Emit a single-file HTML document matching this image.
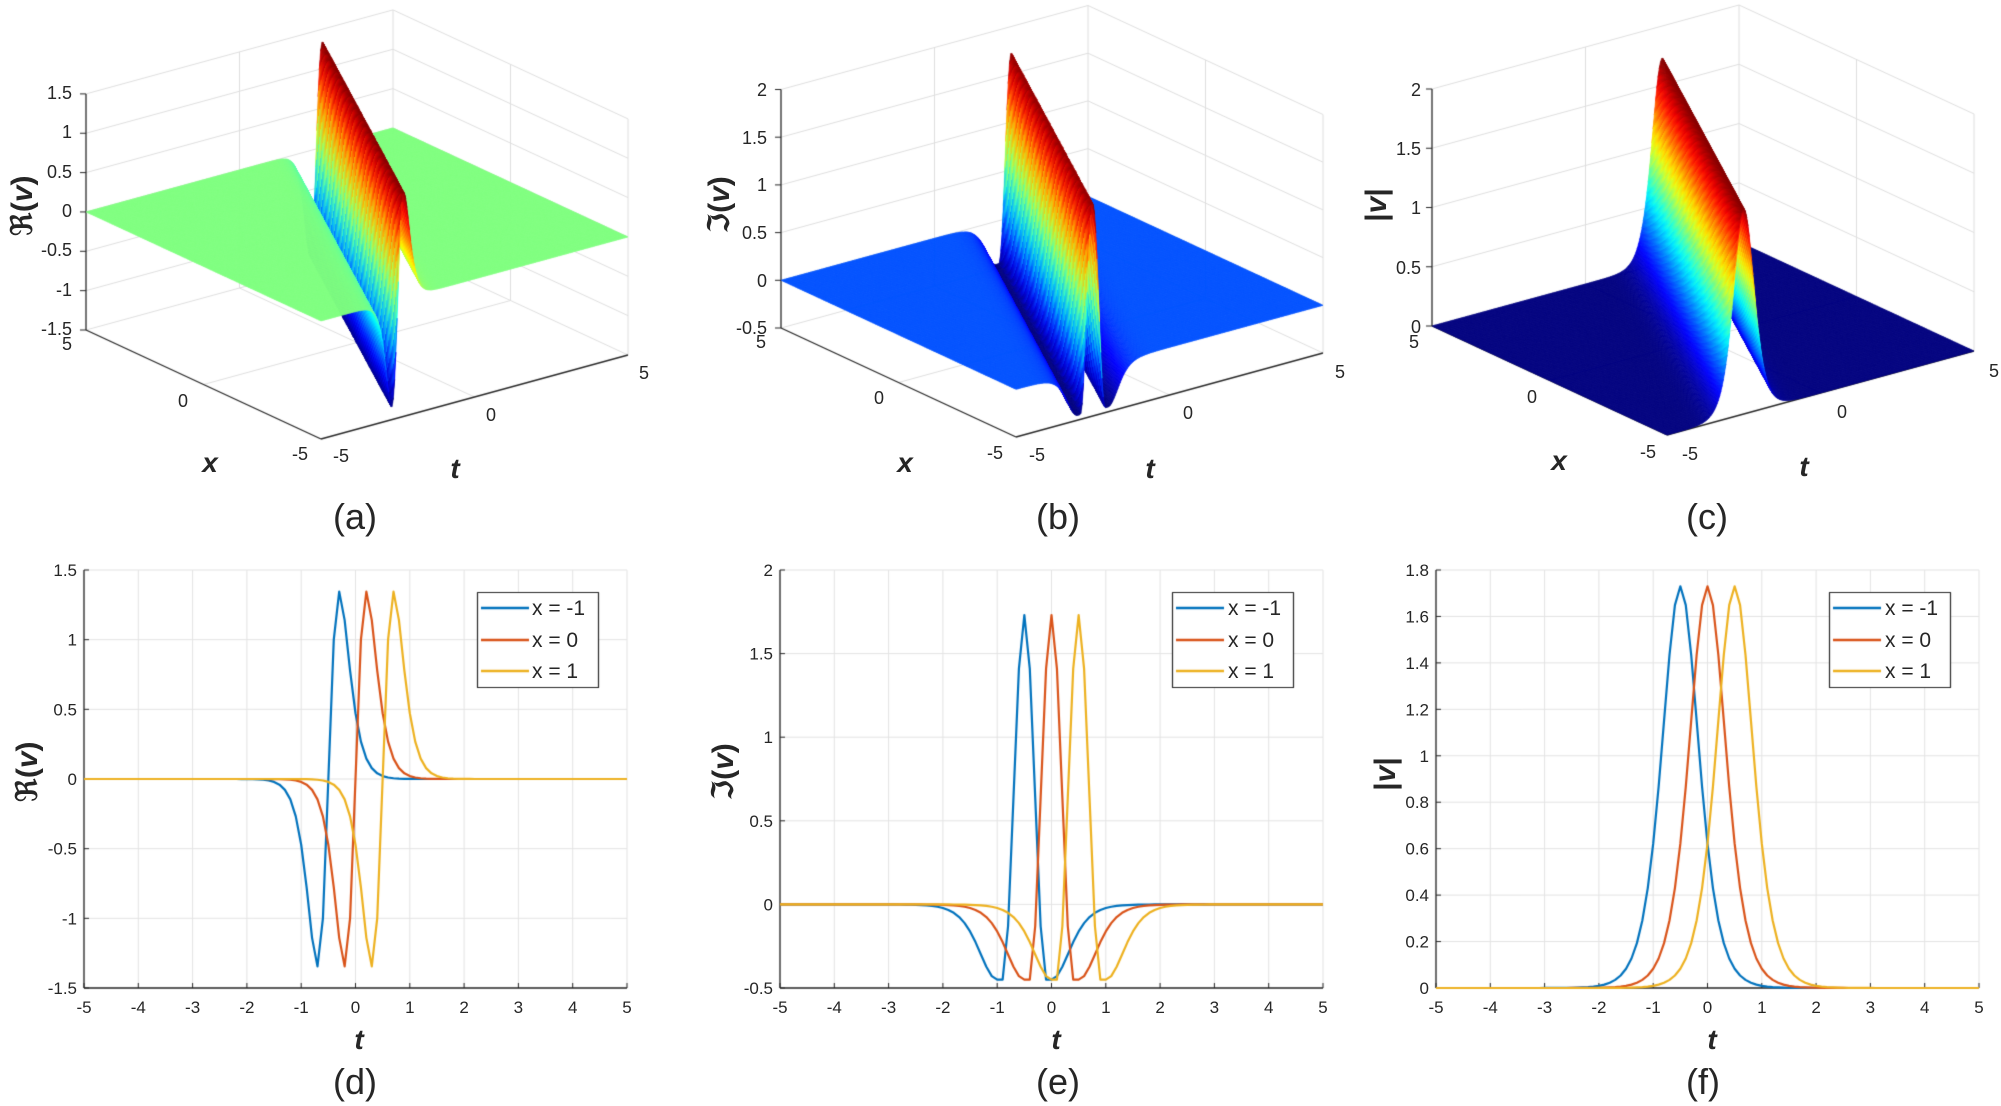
<!DOCTYPE html>
<html><head><meta charset="utf-8">
<style>
html,body{margin:0;padding:0;background:#fff;}
#wrap{position:relative;width:2001px;height:1106px;overflow:hidden;}
canvas,svg{position:absolute;left:0;top:0;}
text{font-family:"Liberation Sans","DejaVu Sans",sans-serif;fill:#262626;}
.tk{font-size:17px;}
.tk3{font-size:18px;}
.lab{font-size:28px;font-weight:bold;font-style:italic;fill:#000;}
.yl{font-size:30px;font-weight:bold;fill:#000;font-family:"DejaVu Serif","Liberation Serif",serif;}
.cap{font-size:36px;fill:#000;}
.lg{font-size:21px;fill:#000;}
</style></head>
<body><div id="wrap">
<canvas id="c" width="2001" height="1106"></canvas>
<svg width="2001" height="1106" viewBox="0 0 2001 1106">
<g class="tk3" text-anchor="end">
<text x="72" y="99">1.5</text><text x="72" y="138">1</text><text x="72" y="178">0.5</text><text x="72" y="217">0</text><text x="72" y="256">-0.5</text><text x="72" y="296">-1</text><text x="72" y="335">-1.5</text>
<text x="767" y="96">2</text><text x="767" y="144">1.5</text><text x="767" y="191">1</text><text x="767" y="239">0.5</text><text x="767" y="287">0</text><text x="767" y="334">-0.5</text>
<text x="1421" y="96">2</text><text x="1421" y="155">1.5</text><text x="1421" y="214">1</text><text x="1421" y="274">0.5</text><text x="1421" y="333">0</text>
</g>
<g class="tk3" text-anchor="middle">
<text x="67" y="350">5</text><text x="183" y="407">0</text><text x="300" y="460">-5</text>
<text x="341" y="462">-5</text><text x="491" y="421">0</text><text x="644" y="379">5</text>
<text x="761" y="348">5</text><text x="879" y="404">0</text><text x="995" y="459">-5</text>
<text x="1037" y="461">-5</text><text x="1188" y="419">0</text><text x="1340" y="378">5</text>
<text x="1414" y="348">5</text><text x="1532" y="403">0</text><text x="1648" y="458">-5</text>
<text x="1690" y="460">-5</text><text x="1842" y="418">0</text><text x="1994" y="377">5</text>
</g>
<g class="lab" text-anchor="middle">
<text x="210" y="472">x</text><text x="455" y="478">t</text>
<text x="905" y="472">x</text><text x="1150" y="478">t</text>
<text x="1559" y="470">x</text><text x="1804" y="476">t</text>
<text x="359" y="1049">t</text><text x="1056" y="1049">t</text><text x="1712" y="1049">t</text>
</g>
<g class="yl" text-anchor="middle">
<text transform="translate(32,206) rotate(-90)">ℜ(<tspan font-style="italic">v</tspan>)</text>
<text transform="translate(729,205) rotate(-90)">ℑ(<tspan font-style="italic">v</tspan>)</text>
<text transform="translate(1386,205) rotate(-90)" font-family="Liberation Sans,sans-serif">|<tspan font-style="italic">v</tspan>|</text>
<text transform="translate(37,772) rotate(-90)">ℜ(<tspan font-style="italic">v</tspan>)</text>
<text transform="translate(733,772) rotate(-90)">ℑ(<tspan font-style="italic">v</tspan>)</text>
<text transform="translate(1395,774) rotate(-90)" font-family="Liberation Sans,sans-serif">|<tspan font-style="italic">v</tspan>|</text>
</g>
<g class="cap" text-anchor="middle">
<text x="355" y="529">(a)</text><text x="1058" y="529">(b)</text><text x="1707" y="529">(c)</text>
<text x="355" y="1094">(d)</text><text x="1058" y="1094">(e)</text><text x="1703" y="1094">(f)</text>
</g>
<g class="tk" text-anchor="middle">
<text x="84" y="1013">-5</text><text x="138.3" y="1013">-4</text><text x="192.6" y="1013">-3</text><text x="246.9" y="1013">-2</text><text x="301.2" y="1013">-1</text><text x="355.5" y="1013">0</text><text x="409.8" y="1013">1</text><text x="464.1" y="1013">2</text><text x="518.4" y="1013">3</text><text x="572.7" y="1013">4</text><text x="627" y="1013">5</text>
<text x="780" y="1013">-5</text><text x="834.3" y="1013">-4</text><text x="888.6" y="1013">-3</text><text x="942.9" y="1013">-2</text><text x="997.2" y="1013">-1</text><text x="1051.5" y="1013">0</text><text x="1105.8" y="1013">1</text><text x="1160.1" y="1013">2</text><text x="1214.4" y="1013">3</text><text x="1268.7" y="1013">4</text><text x="1323" y="1013">5</text>
<text x="1436" y="1013">-5</text><text x="1490.3" y="1013">-4</text><text x="1544.6" y="1013">-3</text><text x="1598.9" y="1013">-2</text><text x="1653.2" y="1013">-1</text><text x="1707.5" y="1013">0</text><text x="1761.8" y="1013">1</text><text x="1816.1" y="1013">2</text><text x="1870.4" y="1013">3</text><text x="1924.7" y="1013">4</text><text x="1979" y="1013">5</text>
</g>
<g class="tk" text-anchor="end">
<text x="77" y="576">1.5</text><text x="77" y="645.7">1</text><text x="77" y="715.3">0.5</text><text x="77" y="785">0</text><text x="77" y="854.7">-0.5</text><text x="77" y="924.3">-1</text><text x="77" y="994">-1.5</text>
<text x="773" y="576">2</text><text x="773" y="659.6">1.5</text><text x="773" y="743.2">1</text><text x="773" y="826.8">0.5</text><text x="773" y="910.4">0</text><text x="773" y="994">-0.5</text>
<text x="1429" y="576">1.8</text><text x="1429" y="622.4">1.6</text><text x="1429" y="668.9">1.4</text><text x="1429" y="715.3">1.2</text><text x="1429" y="761.8">1</text><text x="1429" y="808.2">0.8</text><text x="1429" y="854.7">0.6</text><text x="1429" y="901.1">0.4</text><text x="1429" y="947.6">0.2</text><text x="1429" y="994">0</text>
</g>
<g class="lg">
<text x="532" y="615">x = -1</text><text x="532" y="647">x = 0</text><text x="532" y="678">x = 1</text>
<text x="1228" y="615">x = -1</text><text x="1228" y="647">x = 0</text><text x="1228" y="678">x = 1</text>
<text x="1885" y="615">x = -1</text><text x="1885" y="647">x = 0</text><text x="1885" y="678">x = 1</text>
</g>
</svg>
</div>
<script>
const cv=document.getElementById('c'),g=cv.getContext('2d');
function sech(a){return 2/(Math.exp(a)+Math.exp(-a));}
function Re(s){const h=sech(3.85*s);return 1.33*(s*h*h)/0.115;}
function Im(s){const a=Math.abs(s);
 if(a<0.4){const c=Math.cos(Math.PI/2*a/0.4);return -0.45+2.18*c*c;}
 if(a<0.5)return -0.45;
 const h=sech(2.2*(a-0.5));return -0.45*h*h;}
function Ab(s){const h=sech(2.2*s);return 1.73*h*h;}
function jet(v){v=Math.max(0,Math.min(1,v));
 const c=x=>Math.round(255*Math.max(0,Math.min(1,x)));
 return 'rgb('+c(1.5-Math.abs(4*v-3))+','+c(1.5-Math.abs(4*v-2))+','+c(1.5-Math.abs(4*v-1))+')';}
const ux=[-23.5,-10.9],ut=[30.7,-8.4];
const P3=[
 {F:[321,439],zmin:-1.5,zmax:1.5,zs:78.7,f:Re,cmin:-1.33,cmax:1.33,zt:[-1.5,-1,-0.5,0,0.5,1,1.5]},
 {F:[1016,437],zmin:-0.5,zmax:2,zs:95.4,f:Im,cmin:-0.45,cmax:1.73,zt:[-0.5,0,0.5,1,1.5,2]},
 {F:[1667,435],zmin:0,zmax:2,zs:118.5,f:Ab,cmin:0,cmax:1.73,zt:[0,0.5,1,1.5,2]}];
function pr(p,x,t,z){return [p.F[0]+(x+5)*ux[0]+(t+5)*ut[0],p.F[1]+(x+5)*ux[1]+(t+5)*ut[1]-(z-p.zmin)*p.zs];}
function ln(a,b,col,w){g.strokeStyle=col;g.lineWidth=w;g.beginPath();g.moveTo(a[0],a[1]);g.lineTo(b[0],b[1]);g.stroke();}
for(const p of P3){
 const gc='#dedede';
 for(const z of p.zt){ln(pr(p,5,-5,z),pr(p,5,5,z),gc,1);ln(pr(p,5,5,z),pr(p,-5,5,z),gc,1);}
 for(const t of [0,5]) ln(pr(p,5,t,p.zmin),pr(p,5,t,p.zmax),gc,1);
 for(const x of [0,-5]) ln(pr(p,x,5,p.zmin),pr(p,x,5,p.zmax),gc,1);
 ln(pr(p,0,-5,p.zmin),pr(p,0,5,p.zmin),gc,1);
 ln(pr(p,-5,0,p.zmin),pr(p,5,0,p.zmin),gc,1);
 ln(pr(p,5,-5,p.zmin),pr(p,5,-5,p.zmax),'#262626',1.3);
 ln(pr(p,5,-5,p.zmin),pr(p,-5,-5,p.zmin),'#262626',1.3);
 ln(pr(p,-5,-5,p.zmin),pr(p,-5,5,p.zmin),'#262626',1.3);
 for(const z of p.zt){const a=pr(p,5,-5,z);ln(a,[a[0]-6,a[1]],'#262626',1);}
 const nx=100,nt=250,Z=[];
 for(let i=0;i<=nx;i++){Z[i]=[];const x=-5+10*i/nx;for(let j=0;j<=nt;j++){const t=-5+10*j/nt;Z[i][j]=p.f(t-0.5*x);}}
 const q=[];
 for(let i=0;i<nx;i++)for(let j=0;j<nt;j++){const x=-5+10*(i+0.5)/nx,t=-5+10*(j+0.5)/nt;q.push([10.9*x+8.4*t,i,j]);}
 q.sort((a,b)=>b[0]-a[0]);
 for(const [d,i,j] of q){
  const x0=-5+10*i/nx,x1=-5+10*(i+1)/nx,t0=-5+10*j/nt,t1=-5+10*(j+1)/nt;
  const a=pr(p,x0,t0,Z[i][j]),b=pr(p,x1,t0,Z[i+1][j]),c=pr(p,x1,t1,Z[i+1][j+1]),e=pr(p,x0,t1,Z[i][j+1]);
  const zm=(Z[i][j]+Z[i+1][j]+Z[i+1][j+1]+Z[i][j+1])/4;
  const col=jet((zm-p.cmin)/(p.cmax-p.cmin));
  g.fillStyle=col;g.strokeStyle=col;g.lineWidth=0.6;
  g.beginPath();g.moveTo(a[0],a[1]);g.lineTo(b[0],b[1]);g.lineTo(c[0],c[1]);g.lineTo(e[0],e[1]);g.closePath();g.fill();g.stroke();
 }
}
const P2=[{L:84,f:Re,ymin:-1.5,ymax:1.5,dy:0.5,lg:477},{L:780,f:Im,ymin:-0.5,ymax:2,dy:0.5,lg:1172},{L:1436,f:Ab,ymin:0,ymax:1.8,dy:0.2,lg:1829}];
const T=570,B=988,W=543,cols=['#0072BD','#D95319','#EDB120'];
for(const p of P2){
 const X=t=>p.L+(t+5)/10*W,Y=v=>B-(v-p.ymin)/(p.ymax-p.ymin)*(B-T);
 for(let k=-5;k<=5;k++){ln([X(k),T],[X(k),B],'#e3e3e3',1);}
 const n=Math.round((p.ymax-p.ymin)/p.dy);
 for(let k=0;k<=n;k++){const y=Y(p.ymin+k*p.dy);ln([p.L,y],[p.L+W,y],'#e3e3e3',1);ln([p.L,y],[p.L+5,y],'#262626',1);}
 for(let k=-5;k<=5;k++){ln([X(k),B],[X(k),B-5],'#262626',1);}
 ln([p.L,T],[p.L,B],'#262626',1.3);ln([p.L,B],[p.L+W,B],'#262626',1.3);
 [-1,0,1].forEach((xv,ci)=>{g.strokeStyle=cols[ci];g.lineWidth=2.2;g.lineJoin='round';g.beginPath();
  for(let k=0;k<=100;k++){const t=-5+k*0.1,v=p.f(t-0.5*xv);const px=X(t),py=Y(v);if(k)g.lineTo(px,py);else g.moveTo(px,py);}g.stroke();});
 g.fillStyle='#fff';g.fillRect(p.lg,592,121,95);g.strokeStyle='#262626';g.lineWidth=1.2;g.strokeRect(p.lg+0.5,592.5,121,95);
 [608,640,671].forEach((y,ci)=>ln([p.lg+4,y],[p.lg+52,y],cols[ci],2.4));
}
</script>
</body></html>
